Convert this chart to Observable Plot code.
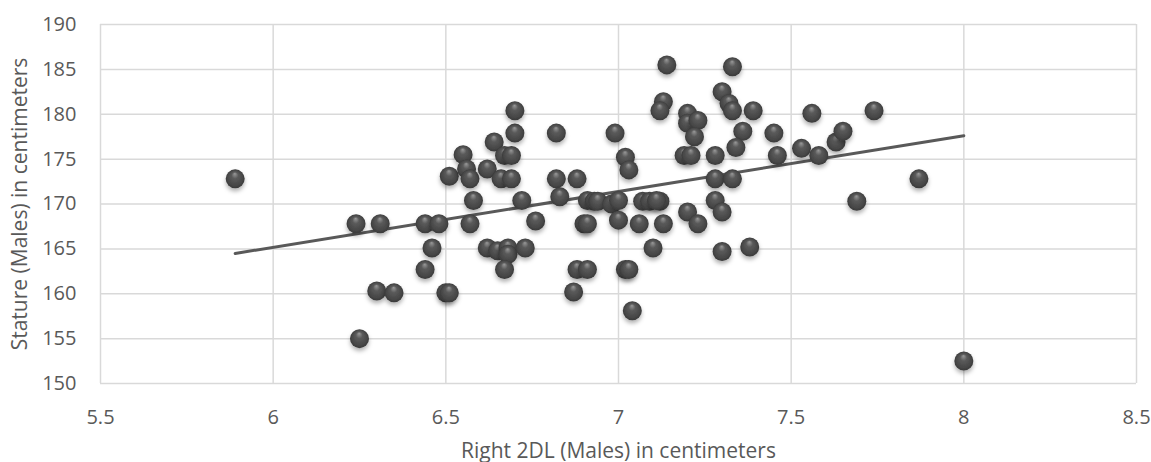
<!DOCTYPE html>
<html>
<head>
<meta charset="utf-8">
<script src="https://cdn.jsdelivr.net/npm/d3@7"></script>
<script src="https://cdn.jsdelivr.net/npm/@observablehq/plot@0.6"></script>
<style>
  html, body { margin: 0; padding: 0; background: #ffffff; }
  #chart { width: 1151px; height: 462px; }
</style>
</head>
<body>
<div id="chart"></div>
<script>
// Right 2DL (Males) in centimeters
const lengths = [
  5.89, 6.24, 6.31, 6.30, 6.35, 6.25, 6.44, 6.48, 6.46, 6.44,
  6.50, 6.51, 6.51, 6.55, 6.56, 6.57, 6.58, 6.57, 6.62, 6.64,
  6.67, 6.69, 6.66, 6.69, 6.70, 6.70, 6.72, 6.76, 6.62, 6.65,
  6.68, 6.68, 6.73, 6.67, 6.82, 6.82, 6.88, 6.83, 6.91, 6.93,
  6.94, 6.98, 7.00, 6.90, 6.91, 7.00, 6.88, 6.91, 7.02, 7.03,
  6.87, 7.04, 6.99, 7.02, 7.03, 7.07, 7.09, 7.12, 7.06, 7.13,
  7.10, 7.14, 7.13, 7.12, 7.20, 7.20, 7.23, 7.22, 7.19, 7.21,
  7.28, 7.20, 7.23, 7.28, 7.33, 7.28, 7.30, 7.30, 7.38, 7.33,
  7.30, 7.32, 7.33, 7.39, 7.36, 7.34, 7.45, 7.46, 7.56, 7.74,
  7.53, 7.58, 7.63, 7.65, 7.87, 7.69, 8.00, 7.11
];
// Stature (Males) in centimeters
const statures = [
  172.8, 167.8, 167.8, 160.3, 160.1, 155.0, 167.8, 167.8, 165.1, 162.7,
  160.1, 160.1, 173.1, 175.5, 173.9, 172.8, 170.4, 167.8, 173.9, 176.9,
  175.4, 175.4, 172.8, 172.8, 177.9, 180.4, 170.4, 168.1, 165.1, 164.8,
  165.1, 164.4, 165.1, 162.7, 177.9, 172.8, 172.8, 170.8, 170.4, 170.3,
  170.3, 170.0, 170.4, 167.8, 167.8, 168.2, 162.7, 162.7, 162.7, 162.7,
  160.2, 158.1, 177.9, 175.2, 173.8, 170.3, 170.3, 170.3, 167.8, 167.8,
  165.1, 185.5, 181.4, 180.4, 180.1, 179.0, 179.3, 177.5, 175.4, 175.4,
  175.4, 169.1, 167.8, 172.8, 172.8, 170.4, 169.1, 164.7, 165.2, 185.3,
  182.5, 181.2, 180.4, 180.4, 178.1, 176.3, 177.9, 175.4, 180.1, 180.4,
  176.2, 175.4, 176.9, 178.1, 172.8, 170.3, 152.5, 170.4
];
const xTicks = [5.5, 6, 6.5, 7, 7.5, 8, 8.5];
const yTicks = [150, 155, 160, 165, 170, 175, 180, 185, 190];
const xTitle = ["Right 2DL (Males) in centimeters"];
const yTitle = ["Stature (Males) in centimeters"];

const data = lengths.map((x, i) => ({x, y: statures[i]}));

const chart = Plot.plot({
  width: 1151,
  height: 462,
  marginLeft: 100,
  marginRight: 15,
  marginTop: 24,
  marginBottom: 79,
  x: {domain: [5.5, 8.5]},
  y: {domain: [150, 190]},
  style: {fontFamily: "'Open Sans', sans-serif", fontSize: "20px", color: "#595959", background: "#ffffff"},
  marks: [
    Plot.gridX(xTicks, {stroke: "#d9d9d9", strokeOpacity: 1, strokeWidth: 1.5}),
    Plot.gridY(yTicks, {stroke: "#d9d9d9", strokeOpacity: 1, strokeWidth: 1.5}),
    Plot.axisX(xTicks, {tickSize: 0, tickPadding: 26, label: null, tickFormat: d => String(d), fill: "#595959", fontSize: 20}),
    Plot.axisY(yTicks, {tickSize: 0, tickPadding: 24, label: null, tickFormat: d => String(d), fill: "#595959", fontSize: 20}),
    Plot.text(xTitle, {frameAnchor: "bottom", textAnchor: "middle", dy: 74, fontSize: 21, fill: "#595959"}),
    Plot.text(yTitle, {frameAnchor: "left", textAnchor: "middle", dx: -80, rotate: -90, fontSize: 21, fill: "#595959"}),
    Plot.linearRegressionY(data, {x: "x", y: "y", stroke: "#595959", strokeWidth: 3, ci: 0}),
    Plot.dot(data, {x: "x", y: "y", r: 9.5, fill: "url(#sphere)", stroke: "none", className: "spheres"})
  ]
});

const svg = d3.select(chart);
const defs = svg.insert("defs", ":first-child");
const grad = defs.append("radialGradient")
  .attr("id", "sphere").attr("cx", "50%").attr("cy", "50%").attr("r", "50%")
  .attr("fx", "48%").attr("fy", "22%");
grad.append("stop").attr("offset", "0%").attr("stop-color", "#9a9a9a");
grad.append("stop").attr("offset", "35%").attr("stop-color", "#5a5a5a");
grad.append("stop").attr("offset", "80%").attr("stop-color", "#474747");
grad.append("stop").attr("offset", "100%").attr("stop-color", "#3a3a3a");
const f = defs.append("filter").attr("id", "shadow")
  .attr("x", "-50%").attr("y", "-50%").attr("width", "200%").attr("height", "200%");
f.append("feDropShadow").attr("dx", 0).attr("dy", 3).attr("stdDeviation", 2)
  .attr("flood-color", "#000").attr("flood-opacity", 0.3);
svg.selectAll(".spheres circle").attr("filter", "url(#shadow)");

document.getElementById("chart").appendChild(chart);
</script>
</body>
</html>
